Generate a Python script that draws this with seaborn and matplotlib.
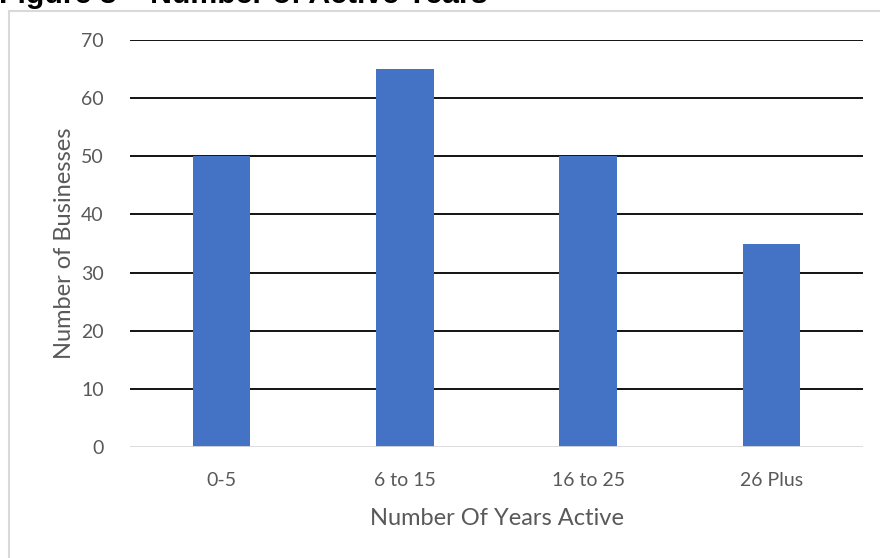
import matplotlib
matplotlib.use("Agg")
import matplotlib.pyplot as plt
from matplotlib.patches import Rectangle
import seaborn as sns
import pandas as pd

# Chart data
categories = ["0-5", "6 to 15", "16 to 25", "26 Plus"]
businesses = [50, 65, 50, 35]
y_ticks = [0, 10, 20, 30, 40, 50, 60, 70]

title_text = "Figure 3 \u2013 Number of Active Years"
x_label = "Number Of Years Active"
y_label = "Number of Businesses"

sns.set_theme(style="white")
plt.rcParams["font.family"] = ["Lato", "DejaVu Sans"]

W, H = 880, 558
fig = plt.figure(figsize=(W / 100, H / 100), dpi=100)
fig.patch.set_facecolor("white")

# Outer chart frame (light grey border)
frame = Rectangle((8.5 / W, 0 - 0.01), (W - 8.5) / W + 0.02, (H - 10.5) / H + 0.01,
                  transform=fig.transFigure, fill=False,
                  edgecolor="#D9D9D9", linewidth=1.5, zorder=0)
fig.patches.append(frame)

# Title sits above the frame, clipped at the top of the image
fig.text(-1 / W, 1 - 3 / H, title_text, fontsize=21.8, fontweight="bold",
         family=["Liberation Sans", "DejaVu Sans"], color="black",
         ha="left", va="baseline")

left, right = 130 / W, 863 / W
bottom, top = 1 - 447 / H, 1 - 40 / H
ax = fig.add_axes([left, bottom, right - left, top - bottom])

df = pd.DataFrame({"cat": categories, "val": businesses})
sns.barplot(data=df, x="cat", y="val", color="#4472C4", saturation=1,
            width=0.315, linewidth=0, ax=ax, zorder=3)

ax.set_ylim(0, 70)
ax.set_xlim(-0.5, len(categories) - 0.5)
ax.set_yticks(y_ticks)
ax.set_yticklabels([str(t) for t in y_ticks])

# Gridlines: black, with a light grey baseline at zero
for t in y_ticks[1:]:
    ax.axhline(t, color="black", linewidth=1.3, zorder=1)
ax.axhline(0, color="#D9D9D9", linewidth=1.3, zorder=4)

for s in ax.spines.values():
    s.set_visible(False)
ax.tick_params(axis="both", length=0, labelsize=14, colors="#595959")
ax.tick_params(axis="y", pad=19)
ax.tick_params(axis="x", pad=18)

ax.set_xlabel(x_label, fontsize=17, color="#595959", labelpad=14)
ax.set_ylabel(y_label, fontsize=17, color="#595959", labelpad=4)

fig.savefig("out.png", dpi=100)
